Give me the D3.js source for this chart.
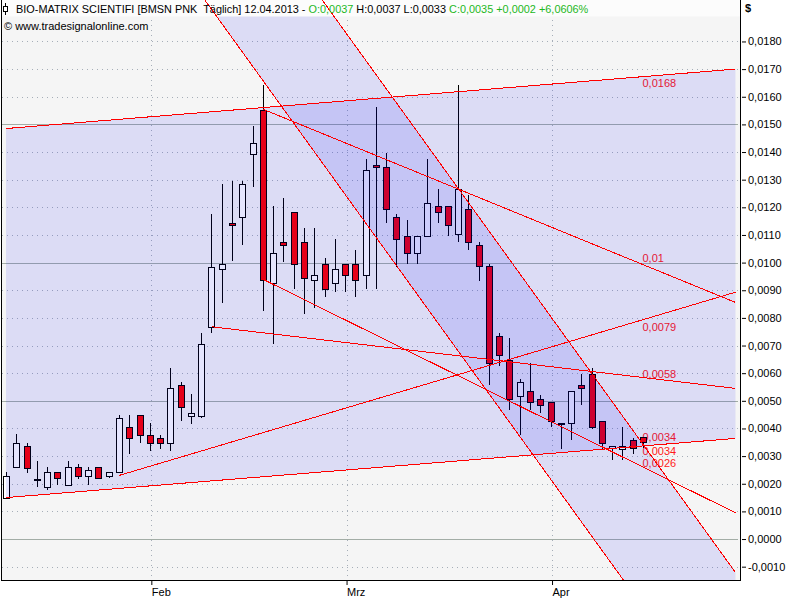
<!DOCTYPE html>
<html>
<head>
<meta charset="utf-8">
<script src="https://cdn.jsdelivr.net/npm/d3@7/dist/d3.min.js"></script>
<style>
  html, body { margin: 0; padding: 0; background: #ffffff; }
  svg { display: block; }
  text { font-family: "Liberation Sans", Arial, sans-serif; }
</style>
</head>
<body>
<svg id="chart" width="800" height="600"></svg>
<script>
// ---------------- DATA ----------------
const candleDates = [
  "2013-01-11","2013-01-14","2013-01-15","2013-01-16","2013-01-17","2013-01-18","2013-01-22","2013-01-23","2013-01-24","2013-01-25",
  "2013-01-28","2013-01-29","2013-01-30","2013-01-31","2013-02-01","2013-02-04","2013-02-05","2013-02-06","2013-02-07","2013-02-08",
  "2013-02-11","2013-02-12","2013-02-13","2013-02-14","2013-02-15","2013-02-19","2013-02-20","2013-02-21","2013-02-22","2013-02-25",
  "2013-02-26","2013-02-27","2013-02-28","2013-03-01","2013-03-04","2013-03-05","2013-03-06","2013-03-07","2013-03-08","2013-03-11",
  "2013-03-12","2013-03-13","2013-03-14","2013-03-15","2013-03-18","2013-03-19","2013-03-20","2013-03-21","2013-03-22","2013-03-25",
  "2013-03-26","2013-03-27","2013-03-28","2013-04-01","2013-04-02","2013-04-03","2013-04-04","2013-04-05","2013-04-08","2013-04-09",
  "2013-04-10","2013-04-11","2013-04-12"
];
const openVals = [0.00150,0.00259,0.00338,0.00218,0.00189,0.00241,0.00197,0.00259,0.00229,0.00259,
  0.00229,0.00241,0.00407,0.00448,0.00378,0.00367,0.00349,0.00558,0.00445,0.00446,
  0.00768,0.00977,0.01143,0.01165,0.01394,0.01551,0.00927,0.01073,0.01183,0.01075,
  0.00938,0.00995,0.00927,0.00995,0.00995,0.00956,0.01353,0.01345,0.01166,0.01096,
  0.01035,0.01096,0.01205,0.01205,0.01104,0.01194,0.01064,0.00986,0.00735,0.00649,
  0.00517,0.00537,0.00508,0.00496,0.00418,0.00418,0.00558,0.00598,0.00427,0.00331,
  0.00327,0.00360,0.00370];
const highVals = [0.00243,0.00379,0.00349,0.00282,0.00259,0.00241,0.00282,0.00271,0.00259,0.00259,
  0.00241,0.00448,0.00448,0.00448,0.00419,0.00378,0.00617,0.00569,0.00526,0.00747,
  0.01176,0.01285,0.01296,0.01296,0.01495,0.01643,0.01205,0.01234,0.01183,0.01126,
  0.01126,0.01017,0.01086,0.00995,0.01046,0.01374,0.01563,0.01395,0.01176,0.01154,
  0.01096,0.01374,0.01266,0.01205,0.01643,0.01244,0.01075,0.00995,0.00747,0.00728,
  0.00578,0.00637,0.00520,0.00496,0.00418,0.00537,0.00598,0.00618,0.00427,0.00337,
  0.00405,0.00367,0.00370];
const lowVals = [0.00150,0.00259,0.00239,0.00189,0.00179,0.00197,0.00197,0.00217,0.00195,0.00219,
  0.00219,0.00241,0.00307,0.00348,0.00318,0.00326,0.00319,0.00427,0.00416,0.00439,
  0.00746,0.00853,0.01005,0.01062,0.01272,0.00824,0.00707,0.01004,0.00905,0.00815,
  0.00835,0.00875,0.00893,0.00893,0.00875,0.00905,0.00904,0.01142,0.00983,0.00995,
  0.00995,0.01096,0.01142,0.01096,0.01075,0.01046,0.00935,0.00556,0.00627,0.00466,
  0.00378,0.00466,0.00456,0.00405,0.00325,0.00357,0.00486,0.00397,0.00327,0.00285,
  0.00285,0.00309,0.00330];
const closeVals = [0.00229,0.00349,0.00257,0.00218,0.00241,0.00219,0.00259,0.00229,0.00249,0.00219,
  0.00241,0.00439,0.00367,0.00378,0.00349,0.00349,0.00548,0.00478,0.00457,0.00706,
  0.00984,0.00996,0.01136,0.01284,0.01432,0.00938,0.01035,0.01064,0.00995,0.00945,
  0.00956,0.00905,0.00977,0.00956,0.00938,0.01335,0.01346,0.01194,0.01086,0.01035,
  0.01096,0.01216,0.01183,0.01136,0.01266,0.01075,0.00986,0.00638,0.00667,0.00508,
  0.00568,0.00496,0.00486,0.00427,0.00418,0.00537,0.00548,0.00407,0.00349,0.00337,
  0.00337,0.00330,0.00350];

// trend lines: [bar index, value] -> [bar index, value]
const trendLines = [
  { id: "chanTop",  i1: 0,  v1: 0.01485, i2: 71, v2: 0.01700 },
  { id: "chanBot",  i1: 0,  v1: 0.00150, i2: 71, v2: 0.00364 },
  { id: "fall1",    i1: 19, v1: 0.01968, i2: 61, v2: -0.00195 },
  { id: "fall2",    i1: 30, v1: 0.01990, i2: 71, v2: -0.00121 },
  { id: "l01",      i1: 25, v1: 0.01555, i2: 71, v2: 0.00856 },
  { id: "l0079",    i1: 11, v1: 0.00230, i2: 71, v2: 0.00893 },
  { id: "l0058",    i1: 20, v1: 0.00768, i2: 71, v2: 0.00545 },
  { id: "l0026",    i1: 25, v1: 0.00940, i2: 71, v2: 0.00095 }
];
const lineLabels   = ["0,0168", "0,01", "0,0079", "0,0058", "0,0034", "0,0034", "0,0026"];
const lineLabelFor = ["chanTop", "l01", "l0079", "l0058", "fall2", "chanBot", "l0026"];

const yTickVals = [0.018,0.017,0.016,0.015,0.014,0.013,0.012,0.011,0.010,0.009,0.008,
                   0.007,0.006,0.005,0.004,0.003,0.002,0.001,0.000,-0.001];
const monthTickIdx = [14, 33, 53];
const monthLabels = ["Feb", "Mrz", "Apr"];

const headerParts = [
  { t: "BIO-MATRIX SCIENTIFI [BMSN PNK  Täglich] 12.04.2013 - ", c: "#000000" },
  { t: "O:0,0037", c: "#1cb81c" },
  { t: " H:0,0037 L:0,0033 ", c: "#000000" },
  { t: "C:0,0035 +0,0002 +6,0606%", c: "#1cb81c" }
];

// ---------------- SCALES ----------------
const svg = d3.select("#chart");
const PL = 2, PR = 740, PT = 0, PB = 580;
const x = d3.scaleLinear().domain([0, candleDates.length - 1]).range([6, 643]);
const y = d3.scaleLinear().domain([-0.0015, 0.0195]).range([580.5, 0]);
const lastIdx = candleDates.length - 1;

svg.append("rect").attr("width", 800).attr("height", 600).attr("fill", "#ffffff");
svg.append("rect").attr("x", PL).attr("y", PT).attr("width", PR - PL).attr("height", PB - PT).attr("fill", "#f5f5f5");

const defs = svg.append("defs");
defs.append("clipPath").attr("id", "plotClip")
  .append("rect").attr("x", PL).attr("y", PT).attr("width", PR - PL).attr("height", PB - PT);

// ---------------- GRID ----------------
const grid = svg.append("g").attr("clip-path", "url(#plotClip)");
yTickVals.forEach(v => {
  const major = Math.abs(Math.round(v * 10000) % 50) === 0;
  const yy = Math.round(y(v)) + 0.5;
  grid.append("line").attr("x1", PL).attr("x2", PR - 2).attr("y1", yy).attr("y2", yy)
    .attr("stroke", major ? "#a3ada6" : "#a6aeb8")
    .attr("stroke-width", 1)
    .attr("stroke-dasharray", major ? null : "1,4")
    .attr("shape-rendering", "crispEdges");
});
monthTickIdx.forEach(i => {
  const xx = Math.round(x(i) + 1.5) + 0.5;
  grid.append("line").attr("x1", xx).attr("x2", xx).attr("y1", PT).attr("y2", PB)
    .attr("stroke", "#a6aeb8").attr("stroke-dasharray", "1,4")
    .attr("shape-rendering", "crispEdges");
});

// ---------------- LABELS OF TREND LINES (under overlay) ----------------
const labelDy = [6.6, -6.3, 7.7, -3.5, -7.1, 5.2, -4];
function valAt(line, i) {
  return line.v1 + (line.v2 - line.v1) * (i - line.i1) / (line.i2 - line.i1);
}
const lblG = svg.append("g");
lineLabels.forEach((t, k) => {
  const ln = trendLines.find(l => l.id === lineLabelFor[k]);
  lblG.append("text")
    .attr("x", x(lastIdx) - 0.5)
    .attr("y", y(valAt(ln, lastIdx)) + labelDy[k])
    .attr("dy", "0.36em")
    .attr("font-size", 11)
    .attr("fill", "#ff1a1a")
    .text(t);
});

// ---------------- CANDLES ----------------
const cg = svg.append("g").attr("shape-rendering", "crispEdges");
candleDates.forEach((d, i) => {
  const cx = Math.round(x(i)) + 0.5;
  const o = openVals[i], c = closeVals[i], h = highVals[i], l = lowVals[i];
  cg.append("line").attr("x1", cx).attr("x2", cx)
    .attr("y1", Math.round(y(h))).attr("y2", Math.round(y(l)))
    .attr("stroke", "#000000");
  const top = Math.round(y(Math.max(o, c)));
  const bot = Math.round(y(Math.min(o, c)));
  cg.append("rect")
    .attr("x", cx - 3).attr("y", top + 0.5)
    .attr("width", 6).attr("height", Math.max(1, bot - top))
    .attr("fill", c < o ? "#ff0000" : "#ffffff")
    .attr("stroke", "#000000").attr("stroke-width", 1);
});

// ---------------- CHANNEL FILLS (translucent overlay) ----------------
const lineById = id => trendLines.find(l => l.id === id);
const fillG = svg.append("g").attr("clip-path", "url(#plotClip)");
const A1 = lineById("chanTop"), A2 = lineById("chanBot");
const polyA = [[A1.i1, A1.v1], [A1.i2, A1.v2], [A2.i2, A2.v2], [A2.i1, A2.v1]];
const B1 = lineById("fall1"), B2 = lineById("fall2");
const polyB = [[B1.i1, B1.v1], [B2.i1, B2.v1], [B2.i2, B2.v2], [B2.i2, -0.003], [B1.i2, -0.003], [B1.i2, B1.v2]];
[polyA, polyB].forEach(p => {
  fillG.append("path")
    .attr("d", d3.line().x(q => x(q[0])).y(q => y(q[1]))(p) + "Z")
    .attr("fill", "rgb(0,0,245)").attr("fill-opacity", 0.1);
});

// header strip
svg.append("rect").attr("x", PL).attr("y", 0).attr("width", PR - PL).attr("height", 16.5).attr("fill", "#fcfcfc");

// ---------------- TREND LINES ----------------
const tg = svg.append("g").attr("clip-path", "url(#plotClip)");
trendLines.forEach(l => {
  tg.append("line")
    .attr("x1", x(l.i1)).attr("y1", y(l.v1))
    .attr("x2", x(l.i2)).attr("y2", y(l.v2))
    .attr("stroke", "#ff0000").attr("stroke-width", 1)
    .attr("shape-rendering", "crispEdges");
});

// ---------------- BORDERS ----------------
svg.append("line").attr("x1", 1.5).attr("x2", 1.5).attr("y1", 0).attr("y2", 581).attr("stroke", "#000").attr("shape-rendering", "crispEdges");
svg.append("line").attr("x1", 740.5).attr("x2", 740.5).attr("y1", 0).attr("y2", 581).attr("stroke", "#000").attr("shape-rendering", "crispEdges");
svg.append("line").attr("x1", 1).attr("x2", 741).attr("y1", 580.5).attr("y2", 580.5).attr("stroke", "#000").attr("shape-rendering", "crispEdges");

// ---------------- AXES ----------------
const fmt = v => (v < 0 ? "-" : "") + Math.abs(v).toFixed(4).replace(".", ",");
const yAxis = d3.axisRight(y).tickValues(yTickVals).tickFormat(fmt).tickSize(4).tickPadding(2);
const yg = svg.append("g").attr("transform", "translate(742,0)").call(yAxis);
yg.select(".domain").remove();
yg.selectAll("text").attr("font-size", 11).attr("font-family", "Liberation Sans, Arial, sans-serif").attr("fill", "#000");
yg.selectAll("line").attr("stroke", "#000");
svg.append("text").attr("x", 745).attr("y", 12).attr("font-size", 11).attr("font-weight", "bold").attr("fill", "#000").text("$");

const xAxis = d3.axisBottom(d3.scaleLinear().domain(x.domain()).range(x.range()))
  .tickValues(monthTickIdx).tickFormat((d, k) => monthLabels[k]).tickSize(5).tickPadding(3);
const xg = svg.append("g").attr("transform", "translate(1.5,580)").call(xAxis);
xg.select(".domain").remove();
xg.selectAll("line").attr("stroke", "#000");
xg.selectAll("text").attr("font-size", 11).attr("font-family", "Liberation Sans, Arial, sans-serif")
  .attr("text-anchor", "start").attr("x", 0).attr("fill", "#000");

// ---------------- HEADER ----------------
const icon = svg.append("g").attr("shape-rendering", "crispEdges");
icon.append("line").attr("x1", 5.5).attr("x2", 5.5).attr("y1", 3).attr("y2", 15).attr("stroke", "#000");
icon.append("rect").attr("x", 3.5).attr("y", 6.5).attr("width", 4).attr("height", 5).attr("fill", "#fff").attr("stroke", "#000");

const ht = svg.append("text").attr("x", 16).attr("y", 13).attr("font-size", 10.9)
  .style("white-space", "pre");
headerParts.forEach(p => ht.append("tspan").attr("fill", p.c).text(p.t));

svg.append("text").attr("x", 4).attr("y", 30).attr("font-size", 11).attr("fill", "#000")
  .text("© www.tradesignalonline.com");
</script>
</body>
</html>
